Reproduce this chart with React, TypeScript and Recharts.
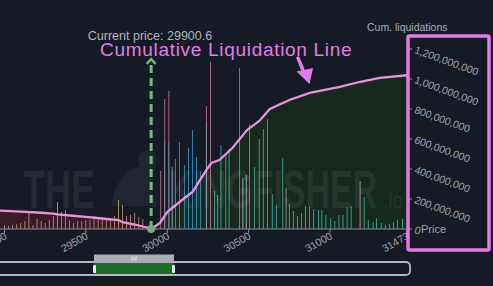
import React from 'react';
import {
  ComposedChart,
  Bar,
  Area,
  Line,
  XAxis,
  YAxis,
  ReferenceLine,
  ReferenceDot,
  Cell,
} from 'recharts';

const FONT = '"Liberation Sans", Arial, sans-serif';
const BG = '#161a25';
const MAG = '#e27be6';
const PINK = '#dc7f9a';
const BLUE = '#44a4dc';
const TEAL = '#44c4b0';
const LAV = '#bcc8ea';
const WHITE = '#d8dee7';
const PALE = '#d8a4ae';
const BEIGE = '#d69c8a';
const YEL = '#cdb66c';

const CURRENT_PRICE = 29900.6;
const X_DOMAIN: [number, number] = [28972, 31473];
const X_TICKS = [29000, 29500, 30000, 30500, 31000, 31473];
const CUM_TICKS = [0, 200000000, 400000000, 600000000, 800000000, 1000000000, 1200000000];

// Long-side liquidation bars (below current price)
const longBarPrices = [
  29000, 29025, 29050, 29075, 29100, 29125, 29150, 29175, 29200, 29225, 29250, 29275,
  29300, 29325, 29350, 29375, 29400, 29425, 29450, 29475, 29500, 29525, 29550, 29575,
  29600, 29625, 29650, 29675, 29700, 29725, 29750, 29775, 29800, 29825, 29850, 29875,
];
const longBarValues = [
  4, 3, 4, 5, 6, 8, 16, 4, 10, 8, 6, 9,
  13, 27, 17, 19, 9, 6, 8, 8, 9, 9, 13, 10,
  10, 9, 9, 13, 29, 24, 13, 14, 16, 12, 10, 3,
];
const longBarColors = [
  BEIGE, BEIGE, BEIGE, BEIGE, BEIGE, BEIGE, '#cdb59a', BEIGE, BEIGE, BEIGE, BEIGE, BEIGE,
  BEIGE, YEL, BEIGE, BEIGE, BEIGE, BEIGE, BEIGE, BEIGE, BEIGE, BEIGE, BEIGE, BEIGE,
  BEIGE, BEIGE, BEIGE, BEIGE, YEL, BEIGE, BEIGE, BEIGE, BEIGE, BEIGE, BEIGE, YEL,
];

// Short-side liquidation bars (above current price)
const shortBarPrices = [
  29925, 29960, 29985, 30010, 30030, 30050, 30075, 30105, 30130, 30155, 30180, 30205,
  30240, 30265, 30290, 30310, 30330, 30360, 30380, 30445, 30465, 30485, 30505, 30535,
  30565, 30590, 30615, 30645, 30670, 30710, 30730, 30750, 30775, 30800, 30825, 30850,
  30875, 30900, 30930, 30950, 30975, 31005, 31030, 31055, 31080, 31105, 31130, 31185,
  31210, 31235, 31265, 31285, 31315, 31340, 31365, 31390, 31415, 31445,
];
const shortBarTotals = [
  4, 58, 130, 138, 62, 70, 87, 64, 81, 99, 72, 58,
  123, 167, 38, 34, 84, 76, 80, 161, 51, 54, 105, 62,
  90, 100, 110, 35, 24, 71, 41, 25, 18, 13, 16, 23,
  22, 20, 19, 19, 14, 11, 8, 14, 14, 22, 23, 48,
  32, 9, 7, 11, 6, 4, 5, 7, 9, 10,
];
const shortBarBases = [
  4, 58, 88, 87, 62, 70, 87, 64, 81, 99, 72, 58,
  107, 167, 38, 34, 84, 76, 80, 161, 51, 54, 105, 62,
  90, 100, 110, 35, 24, 71, 41, 25, 18, 13, 16, 23,
  22, 20, 19, 19, 14, 11, 8, 14, 14, 22, 23, 48,
  32, 9, 7, 11, 6, 4, 5, 7, 9, 10,
];
const shortBarColors = [
  YEL, PINK, LAV, LAV, LAV, BLUE, BLUE, BLUE, BLUE, BLUE, BLUE, BLUE,
  LAV, PINK, TEAL, TEAL, TEAL, TEAL, TEAL, PINK, WHITE, WHITE, PINK, TEAL,
  TEAL, TEAL, TEAL, TEAL, TEAL, TEAL, PALE, TEAL, TEAL, TEAL, TEAL, TEAL,
  TEAL, TEAL, TEAL, TEAL, TEAL, TEAL, TEAL, TEAL, TEAL, TEAL, TEAL, PALE,
  TEAL, TEAL, TEAL, TEAL, TEAL, TEAL, TEAL, TEAL, TEAL, TEAL,
];

// Cumulative liquidation line
const longCumPrices = [28972, 29100, 29200, 29300, 29325, 29400, 29500, 29600, 29700, 29725, 29800, 29875, 29900.6];
const longCumValues = [
  122000000, 116000000, 110000000, 103000000, 97000000, 90000000, 81000000,
  70000000, 60000000, 45000000, 30000000, 10000000, 0,
];
const shortCumPrices = [
  29900.6, 29955, 30000, 30075, 30155, 30240, 30270, 30320, 30400, 30490,
  30565, 30630, 30750, 30875, 31060, 31180, 31305, 31473,
];
const shortCumValues = [
  0, 40000000, 113000000, 180000000, 247000000, 393000000, 440000000, 460000000, 540000000, 660000000,
  720000000, 800000000, 860000000, 907000000, 947000000, 980000000, 1007000000, 1025000000,
];

const barTable = [
  ...longBarPrices.map((p, i) => ({ price: p, base: longBarValues[i], top: 0, color: longBarColors[i] })),
  ...shortBarPrices.map((p, i) => ({
    price: p,
    base: shortBarBases[i],
    top: shortBarTotals[i] - shortBarBases[i],
    color: shortBarColors[i],
  })),
];
const longCumData = longCumPrices.map((p, i) => ({ price: p, cum: longCumValues[i] }));
const shortCumData = shortCumPrices.map((p, i) => ({ price: p, cum: shortCumValues[i] }));

const XTick = (props: any) => {
  const { x, y, payload } = props;
  return (
    <g transform={`translate(${x + 3},${y + 3})`}>
      <text textAnchor="end" transform="rotate(-30)" fontSize={10.5} fill="#9ea3ac" fontFamily={FONT}>
        {payload.value}
      </text>
    </g>
  );
};

const YTick = (props: any) => {
  const { x, y, payload } = props;
  return (
    <g transform={`translate(${x},${y})`}>
      <text transform="rotate(20)" dy={4} fontSize={10.5} fill="#9ea3ac" fontFamily={FONT}>
        {Number(payload.value).toLocaleString('en-US')}
      </text>
    </g>
  );
};

const ArrowHead = (props: any) => {
  const { cx, cy } = props;
  return (
    <path
      d={`M${cx - 4.5} ${cy + 5} L${cx} ${cy} L${cx + 4.5} ${cy + 5}`}
      fill="none"
      stroke="#78b77f"
      strokeWidth={2.5}
    />
  );
};

export default function App() {
  return (
    <div
      style={{
        position: 'absolute',
        left: 0,
        top: 0,
        width: 493,
        height: 286,
        background: BG,
        overflow: 'hidden',
      }}
    >
      <div style={{ position: 'absolute', left: 0, top: 0 }}>
        <ComposedChart
          width={493}
          height={286}
          data={barTable}
          margin={{ top: 49, right: 0, left: 0, bottom: 27 }}
        >
          <XAxis
            dataKey="price"
            type="number"
            domain={X_DOMAIN}
            ticks={X_TICKS}
            allowDataOverflow
            interval={0}
            height={30}
            tickSize={4}
            tickMargin={2}
            axisLine={{ stroke: '#8b9099' }}
            tickLine={{ stroke: '#8b9099' }}
            tick={XTick}
          />
          <YAxis yAxisId="vol" hide domain={[0, 180]} allowDataOverflow />
          <YAxis
            yAxisId="cum"
            orientation="right"
            domain={[0, 1200000000]}
            ticks={CUM_TICKS}
            interval={0}
            width={86}
            allowDataOverflow
            axisLine={false}
            tickSize={5}
            tickMargin={3}
            tickLine={{ stroke: '#8b9099' }}
            tick={YTick}
          />
          <Area
            yAxisId="cum"
            data={longCumData}
            dataKey="cum"
            type="linear"
            stroke="none"
            fill="#3b1a27"
            fillOpacity={1}
            isAnimationActive={false}
          />
          <Area
            yAxisId="cum"
            data={shortCumData}
            dataKey="cum"
            type="linear"
            stroke="none"
            fill="#17291f"
            fillOpacity={1}
            isAnimationActive={false}
          />
          <Bar yAxisId="vol" dataKey="base" stackId="s" barSize={2.6} isAnimationActive={false}>
            {barTable.map((d, i) => (
              <Cell key={i} fill={d.color} />
            ))}
          </Bar>
          <Bar yAxisId="vol" dataKey="top" stackId="s" barSize={2.6} fill={PINK} isAnimationActive={false} />
          <Line
            yAxisId="cum"
            data={longCumData}
            dataKey="cum"
            type="linear"
            stroke="#e892da"
            strokeWidth={2.3}
            dot={false}
            isAnimationActive={false}
          />
          <Line
            yAxisId="cum"
            data={shortCumData}
            dataKey="cum"
            type="linear"
            stroke="#e892da"
            strokeWidth={2.3}
            dot={false}
            isAnimationActive={false}
          />
          <ReferenceLine
            yAxisId="vol"
            segment={[
              { x: CURRENT_PRICE, y: 0 },
              { x: CURRENT_PRICE, y: 167 },
            ]}
            stroke="#78b77f"
            strokeWidth={3}
            strokeDasharray="8 5"
          />
          <ReferenceDot yAxisId="vol" x={CURRENT_PRICE} y={170} shape={ArrowHead} />
          <ReferenceDot yAxisId="vol" x={CURRENT_PRICE} y={0} r={4} fill="#6fae74" stroke="none" />
        </ComposedChart>
      </div>
      <svg
        width={493}
        height={286}
        style={{ position: 'absolute', left: 0, top: 0, pointerEvents: 'none' }}
        fontFamily={FONT}
      >
        {/* watermark */}
        <text x={23} y={208} fontSize={54} fontWeight="bold" textLength={72} lengthAdjust="spacingAndGlyphs" fill="#ffffff" fillOpacity={0.07}>
          THE
        </text>
        <path
          d="M112 206 C114 185 124 170 140 166 C136 160 138 152 146 150 C154 150 158 156 156 164 C152 176 150 190 158 206 Z"
          fill="#ffffff"
          fillOpacity={0.05}
        />
        <text x={168} y={208} fontSize={54} fontWeight="bold" textLength={209} lengthAdjust="spacingAndGlyphs" fill="#ffffff" fillOpacity={0.07}>
          KINGFISHER
        </text>
        <text x={383} y={208} fontSize={22} textLength={20} lengthAdjust="spacingAndGlyphs" fill="#ffffff" fillOpacity={0.07}>
          .io
        </text>

        <text x={150} y={39.5} textAnchor="middle" fontSize={12.5} fill="#b1b5bd">
          Current price: 29900.6
        </text>
        <text x={100} y={56} fontSize={19} letterSpacing={0.7} fill="#e07de0">
          Cumulative Liquidation Line
        </text>
        <path d="M298 58 L305 75" stroke={MAG} strokeWidth={3.5} strokeLinecap="round" />
        <path d="M296.5 71.5 L313 68 L309.5 84 Z" fill={MAG} />

        <text x={367} y={31} fontSize={10.5} fill="#a7acb5">
          Cum. liquidations
        </text>
        <text x={421} y={233} fontSize={11} fill="#a0a5ae">
          Price
        </text>
        <rect x={408} y={36} width={81} height={214} rx={1.5} fill="none" stroke={MAG} strokeWidth={3.5} />

        {/* range slider */}
        <rect x={-4} y={262} width={414} height={13} rx={4} fill="none" stroke="#b3b7bf" strokeWidth={1.8} />
        <rect x={94} y={254.5} width={80} height={8} fill="#a9adb5" />
        <path d="M132 256.5 v4 M134 256.5 v4 M136 256.5 v4" stroke="#f2f2f2" strokeWidth={0.8} />
        <rect x={94} y={263} width={80} height={11} fill="#1e6b2a" />
        <rect x={93} y={265} width={3} height={8} rx={1} fill="#f0f0f0" />
        <rect x={172} y={265} width={3} height={8} rx={1} fill="#f0f0f0" />
      </svg>
    </div>
  );
}
